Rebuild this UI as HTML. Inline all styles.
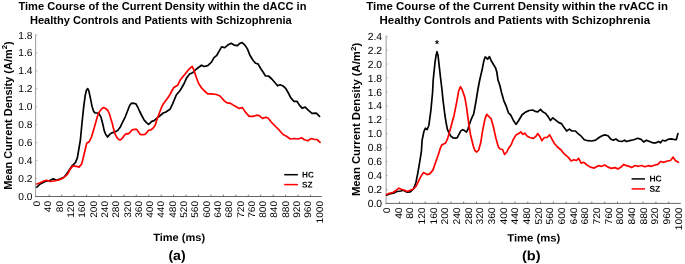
<!DOCTYPE html>
<html lang="en"><head><meta charset="utf-8"><title>Time Course of the Current Density</title>
<style>
html,body{margin:0;padding:0;background:#fff;}
svg{display:block}
text{font-family:"Liberation Sans",sans-serif;fill:#000}
.b{font-weight:bold}
.t{text-rendering:geometricPrecision}
.crv{fill:none;stroke-width:1.7;stroke-linejoin:round;stroke-linecap:round}
</style></head><body>
<svg width="685" height="264" viewBox="0 0 685 264">
<rect width="685" height="264" fill="#fff"/>

<text class="b" transform="translate(18.4,9.5) rotate(0.02)" font-size="10.5" textLength="288.0" lengthAdjust="spacingAndGlyphs">Time Course of the Current Density within the dACC in</text>
<text class="b" transform="translate(29.9,23.55) rotate(0.02)" font-size="10.5" textLength="261.8" lengthAdjust="spacingAndGlyphs">Healthy Controls and Patients with Schizophrenia</text>
<line x1="35.6" y1="34.5" x2="35.6" y2="197.0" stroke="#9a9a9a" stroke-width="1"/>
<line x1="35.1" y1="196.5" x2="321.8" y2="196.5" stroke="#666" stroke-width="1"/>
<line x1="49.2" y1="194.7" x2="49.2" y2="196.5" stroke="#666" stroke-width="0.9"/>
<line x1="61.7" y1="194.7" x2="61.7" y2="196.5" stroke="#666" stroke-width="0.9"/>
<line x1="74.1" y1="194.7" x2="74.1" y2="196.5" stroke="#666" stroke-width="0.9"/>
<line x1="86.6" y1="194.7" x2="86.6" y2="196.5" stroke="#666" stroke-width="0.9"/>
<line x1="99.0" y1="194.7" x2="99.0" y2="196.5" stroke="#666" stroke-width="0.9"/>
<line x1="111.4" y1="194.7" x2="111.4" y2="196.5" stroke="#666" stroke-width="0.9"/>
<line x1="123.9" y1="194.7" x2="123.9" y2="196.5" stroke="#666" stroke-width="0.9"/>
<line x1="136.3" y1="194.7" x2="136.3" y2="196.5" stroke="#666" stroke-width="0.9"/>
<line x1="148.8" y1="194.7" x2="148.8" y2="196.5" stroke="#666" stroke-width="0.9"/>
<line x1="161.2" y1="194.7" x2="161.2" y2="196.5" stroke="#666" stroke-width="0.9"/>
<line x1="173.6" y1="194.7" x2="173.6" y2="196.5" stroke="#666" stroke-width="0.9"/>
<line x1="186.1" y1="194.7" x2="186.1" y2="196.5" stroke="#666" stroke-width="0.9"/>
<line x1="198.5" y1="194.7" x2="198.5" y2="196.5" stroke="#666" stroke-width="0.9"/>
<line x1="211.0" y1="194.7" x2="211.0" y2="196.5" stroke="#666" stroke-width="0.9"/>
<line x1="223.4" y1="194.7" x2="223.4" y2="196.5" stroke="#666" stroke-width="0.9"/>
<line x1="235.8" y1="194.7" x2="235.8" y2="196.5" stroke="#666" stroke-width="0.9"/>
<line x1="248.3" y1="194.7" x2="248.3" y2="196.5" stroke="#666" stroke-width="0.9"/>
<line x1="260.7" y1="194.7" x2="260.7" y2="196.5" stroke="#666" stroke-width="0.9"/>
<line x1="273.2" y1="194.7" x2="273.2" y2="196.5" stroke="#666" stroke-width="0.9"/>
<line x1="285.6" y1="194.7" x2="285.6" y2="196.5" stroke="#666" stroke-width="0.9"/>
<line x1="298.0" y1="194.7" x2="298.0" y2="196.5" stroke="#666" stroke-width="0.9"/>
<line x1="310.5" y1="194.7" x2="310.5" y2="196.5" stroke="#666" stroke-width="0.9"/>
<text class="t" transform="translate(32.4,200.0) scale(1.0,1)" font-size="10.2" text-anchor="end">0.0</text>
<text class="t" transform="translate(32.4,182.1) scale(1.0,1)" font-size="10.2" text-anchor="end">0.2</text>
<line x1="35.6" y1="178.6" x2="37.4" y2="178.6" stroke="#a6a6a6" stroke-width="0.8"/>
<text class="t" transform="translate(32.4,164.1) scale(1.0,1)" font-size="10.2" text-anchor="end">0.4</text>
<line x1="35.6" y1="160.6" x2="37.4" y2="160.6" stroke="#a6a6a6" stroke-width="0.8"/>
<text class="t" transform="translate(32.4,146.2) scale(1.0,1)" font-size="10.2" text-anchor="end">0.6</text>
<line x1="35.6" y1="142.7" x2="37.4" y2="142.7" stroke="#a6a6a6" stroke-width="0.8"/>
<text class="t" transform="translate(32.4,128.2) scale(1.0,1)" font-size="10.2" text-anchor="end">0.8</text>
<line x1="35.6" y1="124.7" x2="37.4" y2="124.7" stroke="#a6a6a6" stroke-width="0.8"/>
<text class="t" transform="translate(32.4,110.3) scale(1.0,1)" font-size="10.2" text-anchor="end">1.0</text>
<line x1="35.6" y1="106.8" x2="37.4" y2="106.8" stroke="#a6a6a6" stroke-width="0.8"/>
<text class="t" transform="translate(32.4,92.3) scale(1.0,1)" font-size="10.2" text-anchor="end">1.2</text>
<line x1="35.6" y1="88.8" x2="37.4" y2="88.8" stroke="#a6a6a6" stroke-width="0.8"/>
<text class="t" transform="translate(32.4,74.4) scale(1.0,1)" font-size="10.2" text-anchor="end">1.4</text>
<line x1="35.6" y1="70.9" x2="37.4" y2="70.9" stroke="#a6a6a6" stroke-width="0.8"/>
<text class="t" transform="translate(32.4,56.4) scale(1.0,1)" font-size="10.2" text-anchor="end">1.6</text>
<line x1="35.6" y1="52.9" x2="37.4" y2="52.9" stroke="#a6a6a6" stroke-width="0.8"/>
<text class="t" transform="translate(32.4,38.5) scale(1.0,1)" font-size="10.2" text-anchor="end">1.8</text>
<line x1="35.6" y1="35.0" x2="37.4" y2="35.0" stroke="#a6a6a6" stroke-width="0.8"/>
<text class="t" transform="translate(40.1,200.9) rotate(-90) scale(1.06,1)" font-size="9.59" text-anchor="end">0</text>
<text class="t" transform="translate(51.4,200.9) rotate(-90) scale(1.06,1)" font-size="9.59" text-anchor="end">40</text>
<text class="t" transform="translate(62.7,200.9) rotate(-90) scale(1.06,1)" font-size="9.59" text-anchor="end">80</text>
<text class="t" transform="translate(74.0,200.9) rotate(-90) scale(1.06,1)" font-size="9.59" text-anchor="end">120</text>
<text class="t" transform="translate(85.3,200.9) rotate(-90) scale(1.06,1)" font-size="9.59" text-anchor="end">160</text>
<text class="t" transform="translate(96.6,200.9) rotate(-90) scale(1.06,1)" font-size="9.59" text-anchor="end">200</text>
<text class="t" transform="translate(107.9,200.9) rotate(-90) scale(1.06,1)" font-size="9.59" text-anchor="end">240</text>
<text class="t" transform="translate(119.2,200.9) rotate(-90) scale(1.06,1)" font-size="9.59" text-anchor="end">280</text>
<text class="t" transform="translate(130.5,200.9) rotate(-90) scale(1.06,1)" font-size="9.59" text-anchor="end">320</text>
<text class="t" transform="translate(141.8,200.9) rotate(-90) scale(1.06,1)" font-size="9.59" text-anchor="end">360</text>
<text class="t" transform="translate(153.1,200.9) rotate(-90) scale(1.06,1)" font-size="9.59" text-anchor="end">400</text>
<text class="t" transform="translate(164.4,200.9) rotate(-90) scale(1.06,1)" font-size="9.59" text-anchor="end">440</text>
<text class="t" transform="translate(175.7,200.9) rotate(-90) scale(1.06,1)" font-size="9.59" text-anchor="end">480</text>
<text class="t" transform="translate(187.0,200.9) rotate(-90) scale(1.06,1)" font-size="9.59" text-anchor="end">520</text>
<text class="t" transform="translate(198.3,200.9) rotate(-90) scale(1.06,1)" font-size="9.59" text-anchor="end">560</text>
<text class="t" transform="translate(209.6,200.9) rotate(-90) scale(1.06,1)" font-size="9.59" text-anchor="end">600</text>
<text class="t" transform="translate(220.9,200.9) rotate(-90) scale(1.06,1)" font-size="9.59" text-anchor="end">640</text>
<text class="t" transform="translate(232.2,200.9) rotate(-90) scale(1.06,1)" font-size="9.59" text-anchor="end">680</text>
<text class="t" transform="translate(243.5,200.9) rotate(-90) scale(1.06,1)" font-size="9.59" text-anchor="end">720</text>
<text class="t" transform="translate(254.8,200.9) rotate(-90) scale(1.06,1)" font-size="9.59" text-anchor="end">760</text>
<text class="t" transform="translate(266.1,200.9) rotate(-90) scale(1.06,1)" font-size="9.59" text-anchor="end">800</text>
<text class="t" transform="translate(277.4,200.9) rotate(-90) scale(1.06,1)" font-size="9.59" text-anchor="end">840</text>
<text class="t" transform="translate(288.7,200.9) rotate(-90) scale(1.06,1)" font-size="9.59" text-anchor="end">880</text>
<text class="t" transform="translate(300.0,200.9) rotate(-90) scale(1.06,1)" font-size="9.59" text-anchor="end">920</text>
<text class="t" transform="translate(311.3,200.9) rotate(-90) scale(1.06,1)" font-size="9.59" text-anchor="end">960</text>
<text class="t" transform="translate(322.6,200.9) rotate(-90) scale(1.06,1)" font-size="9.59" text-anchor="end">1000</text>
<text class="b" transform="translate(11.7,189.8) rotate(-90)" font-size="10.6" textLength="148.5" lengthAdjust="spacingAndGlyphs">Mean Current Density (A/m<tspan font-size="7.6" dy="-4.6">2</tspan><tspan dy="4.6">)</tspan></text>
<text class="b" transform="translate(153.2,241.1) rotate(0.03)" font-size="10.6" textLength="51.9" lengthAdjust="spacingAndGlyphs">Time (ms)</text>
<text class="b" transform="translate(168.4,259.9) rotate(0.05)" font-size="13.6" textLength="17.2" lengthAdjust="spacingAndGlyphs">(a)</text>
<line x1="284.2" y1="174.7" x2="297.9" y2="174.7" stroke="#000" stroke-width="1.5"/>
<line x1="284.2" y1="184.6" x2="297.9" y2="184.6" stroke="#f00" stroke-width="1.5"/>
<text class="b" transform="translate(302.0,177.4) rotate(0.05)" font-size="8.2">HC</text>
<text class="b" transform="translate(302.0,187.5) rotate(0.05)" font-size="8.2">SZ</text>
<polyline class="crv" stroke="#000" points="36.9,187.2 40.2,184.0 45.2,181.5 50.3,180.2 53.3,178.9 56.5,180.2 60.3,178.9 64.1,177.2 67.8,172.2 71.6,166.4 75.4,162.6 77.4,157.6 79.1,147.5 80.4,140.0 81.8,125.0 83.6,107.7 85.2,95.6 86.4,90.3 87.7,88.6 88.9,91.1 90.5,98.6 92.0,106.2 93.5,111.1 95.0,113.0 97.3,113.0 99.1,113.8 100.8,116.8 102.1,121.4 103.0,125.0 104.2,130.6 105.6,134.2 107.6,137.0 109.7,134.4 111.7,132.9 114.7,132.1 117.7,130.6 120.0,127.6 121.8,123.8 123.0,121.4 125.3,116.8 127.6,110.8 129.8,105.2 131.4,103.3 133.6,103.2 135.9,103.9 137.7,107.0 139.7,111.5 142.0,116.0 144.2,120.2 146.5,122.6 148.5,124.3 150.0,123.2 151.8,121.4 154.1,120.6 156.4,118.6 158.6,116.8 160.9,115.0 163.2,113.0 165.5,112.3 167.7,110.8 170.0,109.3 172.6,103.8 176.3,95.0 180.1,90.5 183.9,84.0 186.4,78.3 189.6,74.0 192.7,72.7 196.4,69.0 201.5,65.2 204.0,66.5 207.7,65.7 211.5,62.2 214.0,57.7 216.5,55.7 219.0,51.4 221.6,46.9 224.8,47.6 227.8,45.1 231.1,43.3 234.1,45.1 237.4,45.6 239.9,43.3 242.2,42.6 244.9,45.1 247.4,48.9 249.9,55.2 253.0,60.2 255.5,63.2 258.0,63.9 260.5,68.2 263.5,72.7 265.5,76.0 268.5,76.0 271.8,79.0 275.1,82.8 277.6,85.8 280.1,84.8 283.1,86.0 285.6,88.3 288.1,92.5 290.7,97.6 293.7,101.3 296.9,101.3 299.4,105.1 302.0,108.1 305.2,107.1 308.2,110.1 312.0,113.4 316.3,113.1 319.5,116.4"/>
<polyline class="crv" stroke="#f00" points="36.9,184.0 40.2,182.7 44.0,181.0 46.5,180.2 50.3,181.5 54.0,181.0 57.8,180.2 61.6,178.9 65.3,176.4 67.8,173.9 70.4,168.9 72.9,165.9 76.6,166.4 79.1,167.1 81.7,163.9 84.2,153.8 86.7,143.3 89.2,141.8 91.7,136.5 95.0,125.0 96.5,119.8 98.0,114.5 100.0,110.8 101.8,108.8 103.6,107.5 105.6,108.5 107.9,110.5 109.4,113.8 110.9,119.1 112.4,123.8 113.2,127.6 115.2,134.4 117.3,138.2 119.0,139.6 120.8,139.8 123.0,137.4 124.8,134.7 126.8,133.6 128.3,133.9 130.3,132.1 132.1,129.8 134.4,129.4 136.7,129.4 138.2,131.4 140.0,134.3 142.4,134.7 145.0,134.4 147.0,132.4 148.5,130.3 151.0,129.8 153.0,128.3 155.2,125.3 157.1,119.1 159.4,113.0 161.4,107.7 163.2,103.9 165.5,100.9 167.7,97.9 170.0,94.5 171.5,91.5 173.8,87.5 177.6,85.3 180.1,80.3 182.6,77.0 185.1,74.0 188.1,70.2 190.7,67.7 192.2,66.4 193.9,70.2 196.4,77.8 198.9,84.0 201.5,87.8 204.0,90.5 207.7,93.8 211.5,93.8 216.5,94.5 220.3,96.3 224.1,100.6 226.6,102.6 230.4,103.3 234.1,105.6 239.1,108.4 242.4,107.6 245.4,112.1 249.2,116.4 253.0,116.4 256.7,115.2 259.2,115.7 262.5,118.4 266.0,117.2 268.5,118.4 271.8,122.7 275.6,126.5 279.3,130.2 283.1,134.5 286.9,136.5 290.2,139.0 294.4,138.5 298.2,139.0 301.5,137.8 304.5,139.8 307.7,140.8 311.3,138.5 314.5,139.5 317.0,139.5 320.1,142.3"/>
<text class="b" transform="translate(366.3,9.5) rotate(0.02)" font-size="10.5" textLength="301.7" lengthAdjust="spacingAndGlyphs">Time Course of the Current Density within the rvACC in</text>
<text class="b" transform="translate(379.5,23.55) rotate(0.02)" font-size="10.5" textLength="270.6" lengthAdjust="spacingAndGlyphs">Healthy Controls and Patients with Schizophrenia</text>
<line x1="386.1" y1="35.8" x2="386.1" y2="203.9" stroke="#9a9a9a" stroke-width="1"/>
<line x1="385.6" y1="203.4" x2="680.8" y2="203.4" stroke="#666" stroke-width="1"/>
<line x1="399.6" y1="201.6" x2="399.6" y2="203.4" stroke="#666" stroke-width="0.9"/>
<line x1="412.4" y1="201.6" x2="412.4" y2="203.4" stroke="#666" stroke-width="0.9"/>
<line x1="425.2" y1="201.6" x2="425.2" y2="203.4" stroke="#666" stroke-width="0.9"/>
<line x1="438.1" y1="201.6" x2="438.1" y2="203.4" stroke="#666" stroke-width="0.9"/>
<line x1="450.9" y1="201.6" x2="450.9" y2="203.4" stroke="#666" stroke-width="0.9"/>
<line x1="463.7" y1="201.6" x2="463.7" y2="203.4" stroke="#666" stroke-width="0.9"/>
<line x1="476.5" y1="201.6" x2="476.5" y2="203.4" stroke="#666" stroke-width="0.9"/>
<line x1="489.3" y1="201.6" x2="489.3" y2="203.4" stroke="#666" stroke-width="0.9"/>
<line x1="502.1" y1="201.6" x2="502.1" y2="203.4" stroke="#666" stroke-width="0.9"/>
<line x1="515.0" y1="201.6" x2="515.0" y2="203.4" stroke="#666" stroke-width="0.9"/>
<line x1="527.8" y1="201.6" x2="527.8" y2="203.4" stroke="#666" stroke-width="0.9"/>
<line x1="540.6" y1="201.6" x2="540.6" y2="203.4" stroke="#666" stroke-width="0.9"/>
<line x1="553.4" y1="201.6" x2="553.4" y2="203.4" stroke="#666" stroke-width="0.9"/>
<line x1="566.2" y1="201.6" x2="566.2" y2="203.4" stroke="#666" stroke-width="0.9"/>
<line x1="579.0" y1="201.6" x2="579.0" y2="203.4" stroke="#666" stroke-width="0.9"/>
<line x1="591.8" y1="201.6" x2="591.8" y2="203.4" stroke="#666" stroke-width="0.9"/>
<line x1="604.7" y1="201.6" x2="604.7" y2="203.4" stroke="#666" stroke-width="0.9"/>
<line x1="617.5" y1="201.6" x2="617.5" y2="203.4" stroke="#666" stroke-width="0.9"/>
<line x1="630.3" y1="201.6" x2="630.3" y2="203.4" stroke="#666" stroke-width="0.9"/>
<line x1="643.1" y1="201.6" x2="643.1" y2="203.4" stroke="#666" stroke-width="0.9"/>
<line x1="655.9" y1="201.6" x2="655.9" y2="203.4" stroke="#666" stroke-width="0.9"/>
<line x1="668.7" y1="201.6" x2="668.7" y2="203.4" stroke="#666" stroke-width="0.9"/>
<text class="t" transform="translate(382.1,206.9) scale(1.0,1)" font-size="10.35" text-anchor="end">0.0</text>
<text class="t" transform="translate(382.1,193.0) scale(1.0,1)" font-size="10.35" text-anchor="end">0.2</text>
<line x1="386.1" y1="189.5" x2="387.90000000000003" y2="189.5" stroke="#a6a6a6" stroke-width="0.8"/>
<text class="t" transform="translate(382.1,179.1) scale(1.0,1)" font-size="10.35" text-anchor="end">0.4</text>
<line x1="386.1" y1="175.6" x2="387.90000000000003" y2="175.6" stroke="#a6a6a6" stroke-width="0.8"/>
<text class="t" transform="translate(382.1,165.1) scale(1.0,1)" font-size="10.35" text-anchor="end">0.6</text>
<line x1="386.1" y1="161.6" x2="387.90000000000003" y2="161.6" stroke="#a6a6a6" stroke-width="0.8"/>
<text class="t" transform="translate(382.1,151.2) scale(1.0,1)" font-size="10.35" text-anchor="end">0.8</text>
<line x1="386.1" y1="147.7" x2="387.90000000000003" y2="147.7" stroke="#a6a6a6" stroke-width="0.8"/>
<text class="t" transform="translate(382.1,137.3) scale(1.0,1)" font-size="10.35" text-anchor="end">1.0</text>
<line x1="386.1" y1="133.8" x2="387.90000000000003" y2="133.8" stroke="#a6a6a6" stroke-width="0.8"/>
<text class="t" transform="translate(382.1,123.3) scale(1.0,1)" font-size="10.35" text-anchor="end">1.2</text>
<line x1="386.1" y1="119.8" x2="387.90000000000003" y2="119.8" stroke="#a6a6a6" stroke-width="0.8"/>
<text class="t" transform="translate(382.1,109.4) scale(1.0,1)" font-size="10.35" text-anchor="end">1.4</text>
<line x1="386.1" y1="105.9" x2="387.90000000000003" y2="105.9" stroke="#a6a6a6" stroke-width="0.8"/>
<text class="t" transform="translate(382.1,95.5) scale(1.0,1)" font-size="10.35" text-anchor="end">1.6</text>
<line x1="386.1" y1="92.0" x2="387.90000000000003" y2="92.0" stroke="#a6a6a6" stroke-width="0.8"/>
<text class="t" transform="translate(382.1,81.6) scale(1.0,1)" font-size="10.35" text-anchor="end">1.8</text>
<line x1="386.1" y1="78.1" x2="387.90000000000003" y2="78.1" stroke="#a6a6a6" stroke-width="0.8"/>
<text class="t" transform="translate(382.1,67.6) scale(1.0,1)" font-size="10.35" text-anchor="end">2.0</text>
<line x1="386.1" y1="64.1" x2="387.90000000000003" y2="64.1" stroke="#a6a6a6" stroke-width="0.8"/>
<text class="t" transform="translate(382.1,53.7) scale(1.0,1)" font-size="10.35" text-anchor="end">2.2</text>
<line x1="386.1" y1="50.2" x2="387.90000000000003" y2="50.2" stroke="#a6a6a6" stroke-width="0.8"/>
<text class="t" transform="translate(382.1,39.8) scale(1.0,1)" font-size="10.35" text-anchor="end">2.4</text>
<line x1="386.1" y1="36.3" x2="387.90000000000003" y2="36.3" stroke="#a6a6a6" stroke-width="0.8"/>
<text class="t" transform="translate(390.1,207.4) rotate(-90) scale(1.06,1)" font-size="9.73" text-anchor="end">0</text>
<text class="t" transform="translate(401.8,207.4) rotate(-90) scale(1.06,1)" font-size="9.73" text-anchor="end">40</text>
<text class="t" transform="translate(413.4,207.4) rotate(-90) scale(1.06,1)" font-size="9.73" text-anchor="end">80</text>
<text class="t" transform="translate(425.1,207.4) rotate(-90) scale(1.06,1)" font-size="9.73" text-anchor="end">120</text>
<text class="t" transform="translate(436.7,207.4) rotate(-90) scale(1.06,1)" font-size="9.73" text-anchor="end">160</text>
<text class="t" transform="translate(448.4,207.4) rotate(-90) scale(1.06,1)" font-size="9.73" text-anchor="end">200</text>
<text class="t" transform="translate(460.1,207.4) rotate(-90) scale(1.06,1)" font-size="9.73" text-anchor="end">240</text>
<text class="t" transform="translate(471.7,207.4) rotate(-90) scale(1.06,1)" font-size="9.73" text-anchor="end">280</text>
<text class="t" transform="translate(483.4,207.4) rotate(-90) scale(1.06,1)" font-size="9.73" text-anchor="end">320</text>
<text class="t" transform="translate(495.0,207.4) rotate(-90) scale(1.06,1)" font-size="9.73" text-anchor="end">360</text>
<text class="t" transform="translate(506.7,207.4) rotate(-90) scale(1.06,1)" font-size="9.73" text-anchor="end">400</text>
<text class="t" transform="translate(518.4,207.4) rotate(-90) scale(1.06,1)" font-size="9.73" text-anchor="end">440</text>
<text class="t" transform="translate(530.0,207.4) rotate(-90) scale(1.06,1)" font-size="9.73" text-anchor="end">480</text>
<text class="t" transform="translate(541.7,207.4) rotate(-90) scale(1.06,1)" font-size="9.73" text-anchor="end">520</text>
<text class="t" transform="translate(553.3,207.4) rotate(-90) scale(1.06,1)" font-size="9.73" text-anchor="end">560</text>
<text class="t" transform="translate(565.0,207.4) rotate(-90) scale(1.06,1)" font-size="9.73" text-anchor="end">600</text>
<text class="t" transform="translate(576.7,207.4) rotate(-90) scale(1.06,1)" font-size="9.73" text-anchor="end">640</text>
<text class="t" transform="translate(588.3,207.4) rotate(-90) scale(1.06,1)" font-size="9.73" text-anchor="end">680</text>
<text class="t" transform="translate(600.0,207.4) rotate(-90) scale(1.06,1)" font-size="9.73" text-anchor="end">720</text>
<text class="t" transform="translate(611.6,207.4) rotate(-90) scale(1.06,1)" font-size="9.73" text-anchor="end">760</text>
<text class="t" transform="translate(623.3,207.4) rotate(-90) scale(1.06,1)" font-size="9.73" text-anchor="end">800</text>
<text class="t" transform="translate(635.0,207.4) rotate(-90) scale(1.06,1)" font-size="9.73" text-anchor="end">840</text>
<text class="t" transform="translate(646.6,207.4) rotate(-90) scale(1.06,1)" font-size="9.73" text-anchor="end">880</text>
<text class="t" transform="translate(658.3,207.4) rotate(-90) scale(1.06,1)" font-size="9.73" text-anchor="end">920</text>
<text class="t" transform="translate(669.9,207.4) rotate(-90) scale(1.06,1)" font-size="9.73" text-anchor="end">960</text>
<text class="t" transform="translate(681.6,207.4) rotate(-90) scale(1.06,1)" font-size="9.73" text-anchor="end">1000</text>
<text class="b" transform="translate(360.1,196.1) rotate(-90)" font-size="10.6" textLength="153.3" lengthAdjust="spacingAndGlyphs">Mean Current Density (A/m<tspan font-size="7.6" dy="-4.6">2</tspan><tspan dy="4.6">)</tspan></text>
<text class="b" transform="translate(507.2,241.4) rotate(0.03)" font-size="10.6" textLength="53.2" lengthAdjust="spacingAndGlyphs">Time (ms)</text>
<text class="b" transform="translate(522.0,260.3) rotate(0.05)" font-size="13.6" textLength="18.6" lengthAdjust="spacingAndGlyphs">(b)</text>
<line x1="631.6" y1="178.9" x2="645" y2="178.9" stroke="#000" stroke-width="1.5"/>
<line x1="631.6" y1="188.9" x2="645" y2="188.9" stroke="#f00" stroke-width="1.5"/>
<text class="b" transform="translate(649.4,181.6) rotate(0.05)" font-size="8.5">HC</text>
<text class="b" transform="translate(649.4,191.8) rotate(0.05)" font-size="8.5">SZ</text>
<polyline class="crv" stroke="#000" points="386.6,195.2 389.5,194.0 393.3,193.2 397.0,191.5 400.8,191.0 403.3,190.2 407.1,192.2 410.3,192.0 413.4,189.0 415.9,182.7 417.9,172.6 419.6,162.6 421.4,151.3 422.1,140.3 423.9,131.5 425.4,128.2 427.2,129.5 428.9,125.2 430.9,110.1 432.6,92.0 433.2,80.0 435.0,62.7 436.1,55.2 437.0,51.7 438.0,55.2 439.2,65.8 440.8,80.0 441.9,89.0 443.0,100.0 444.8,114.5 446.1,122.6 447.4,129.4 449.1,133.2 450.9,136.2 453.2,138.0 455.5,138.1 457.3,137.6 458.8,134.7 460.8,130.9 462.7,129.7 464.5,130.6 466.5,132.1 467.9,129.4 469.5,124.1 471.4,118.8 473.7,113.9 476.2,100.0 477.9,89.5 479.7,80.0 482.0,70.3 483.8,61.2 485.0,57.2 486.2,57.4 487.6,59.2 489.5,56.6 491.1,60.5 493.3,64.2 495.6,68.0 496.8,72.0 498.0,80.0 499.8,85.3 501.5,92.4 503.8,100.6 506.3,106.4 508.5,112.9 510.8,115.2 513.4,120.5 516.0,124.4 518.7,120.5 522.1,114.7 525.5,112.1 529.2,110.5 532.6,110.0 535.2,111.3 537.8,111.8 540.5,109.4 543.1,112.1 545.7,113.4 548.4,117.1 550.5,120.5 552.8,117.8 555.4,119.9 558.9,122.6 561.5,123.6 564.1,127.6 566.7,131.0 569.4,129.1 572.0,131.0 575.4,131.0 578.0,133.6 581.2,136.2 584.3,139.7 587.8,140.7 591.7,141.0 595.6,140.2 599.1,137.5 602.2,135.7 604.8,134.9 608.0,135.7 610.6,138.9 613.3,140.2 615.9,138.9 618.5,141.0 621.9,141.5 624.5,140.2 626.4,141.5 629.8,140.7 633.7,139.7 637.7,138.3 641.1,139.4 643.7,142.0 646.4,140.2 649.5,141.5 652.7,142.8 656.1,142.8 658.7,141.5 660.5,142.8 662.6,140.2 665.3,141.0 667.9,139.4 671.0,138.9 673.7,139.4 676.3,139.7 677.9,133.6"/>
<polyline class="crv" stroke="#f00" points="386.6,194.5 389.5,193.2 393.3,192.2 396.3,190.2 398.8,188.2 402.0,189.5 404.6,190.2 407.1,191.5 410.3,190.2 413.4,189.0 415.9,186.5 418.4,181.4 420.9,176.4 423.4,172.6 427.2,174.6 429.7,173.9 432.9,170.1 436.0,161.3 438.2,155.0 440.3,148.3 441.8,144.9 443.6,144.1 445.6,143.0 447.4,139.2 449.4,132.4 451.7,124.1 454.1,115.2 456.6,102.6 458.6,91.3 460.4,86.7 462.3,90.0 464.9,97.6 466.6,107.6 468.6,122.7 470.6,135.3 473.2,145.8 474.9,150.5 476.7,152.0 478.7,150.0 480.7,142.8 482.7,130.2 485.0,118.9 486.7,114.4 488.7,116.4 491.2,118.9 493.3,126.5 495.8,137.8 498.3,146.8 500.0,149.0 502.5,149.5 504.6,154.5 506.8,152.0 508.9,147.7 511.3,144.5 512.9,140.2 516.0,134.9 518.7,133.6 520.8,131.8 522.9,134.4 524.7,133.1 527.3,136.2 530.0,137.5 533.4,138.3 536.0,136.2 537.8,133.6 539.7,136.2 541.8,140.7 544.4,137.5 547.0,137.5 549.7,134.9 551.8,138.9 554.4,143.5 557.5,147.0 561.1,150.0 564.5,154.2 568.1,157.1 571.2,161.0 573.8,159.7 576.5,160.5 578.6,158.4 581.2,163.1 583.8,162.3 587.0,165.0 590.4,167.1 594.3,168.1 598.3,165.7 601.7,166.3 604.8,165.0 608.0,167.1 611.4,168.4 614.8,167.6 618.0,168.9 621.1,167.1 623.8,164.4 626.4,165.7 629.0,166.3 631.6,167.6 635.1,165.5 638.5,166.3 641.6,165.5 644.8,166.8 648.2,165.7 651.6,166.3 654.8,165.0 657.9,164.4 660.5,161.5 664.0,162.3 667.4,161.0 670.5,160.5 673.2,157.1 675.3,160.5 678.4,162.3"/>
<text x="437" y="48.2" class="b" font-size="10" text-anchor="middle">*</text>
</svg>
</body></html>
